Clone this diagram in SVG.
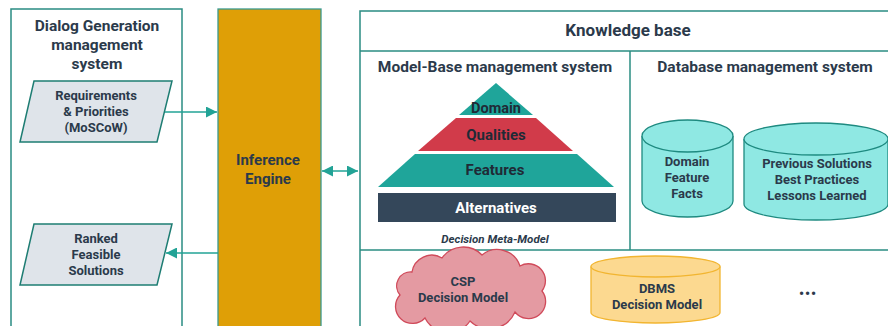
<svg xmlns="http://www.w3.org/2000/svg" width="888" height="326" viewBox="0 0 888 326">
<defs>
<style>
.t{font-family:Roboto,"Liberation Sans",sans-serif;font-weight:bold;fill:#2b3a4b;text-anchor:middle}
.frame{fill:none;stroke:#2a8c82;stroke-width:1.5}
.para{fill:#dfe4ea;stroke:#1e7d73;stroke-width:1.5}
.cyl{fill:#8fe8e3;stroke:#1e8a80;stroke-width:1.3}
.con{stroke:#22a396;stroke-width:1.5;fill:none}
</style>
<marker id="ah" viewBox="0 0 10 10" refX="10" refY="5" markerWidth="11" markerHeight="11" markerUnits="userSpaceOnUse" orient="auto-start-reverse">
<path d="M0,0 L10,5 L0,10 z" fill="#22a396"/>
</marker>
</defs>
<rect width="888" height="326" fill="#ffffff"/>

<g id="dialog-system">
<rect class="frame" x="11" y="9" width="171" height="330"/>
<text class="t" font-size="15.5"><tspan x="97" y="31">Dialog Generation</tspan><tspan x="97" y="50">management</tspan><tspan x="97" y="69">system</tspan></text>
</g>

<g id="requirements">
<polygon class="para" points="34,81 172,81 157,142 20,142"/>
<text class="t" font-size="13"><tspan x="96" y="100">Requirements</tspan><tspan x="96" y="116">&amp; Priorities</tspan><tspan x="96" y="132">(MoSCoW)</tspan></text>
</g>

<g id="ranked-solutions">
<polygon class="para" points="34,224 172,224 157,285 20,285"/>
<text class="t" font-size="13"><tspan x="96" y="243">Ranked</tspan><tspan x="96" y="259">Feasible</tspan><tspan x="96" y="275">Solutions</tspan></text>
</g>

<g id="inference-engine">
<rect x="218" y="9" width="103" height="330" fill="#df9f06" stroke="#3a9a90" stroke-width="1.3"/>
<text class="t" font-size="15"><tspan x="268" y="165">Inference</tspan><tspan x="268" y="184">Engine</tspan></text>
</g>

<g id="knowledge-base">
<rect class="frame" x="360" y="11" width="540" height="330"/>
<line class="frame" x1="360" y1="51" x2="888" y2="51"/>
<line class="frame" x1="360" y1="250" x2="888" y2="250"/>
<line class="frame" x1="630" y1="51" x2="630" y2="250"/>
<text class="t" font-size="17" x="628" y="36">Knowledge base</text>
</g>

<g id="model-base">
<text class="t" font-size="15.5" x="495" y="72">Model-Base management system</text>
<polygon points="496,83 533,115 459,115" fill="#1fa59a"/>
<polygon points="456,118 536,118 573,151 418,151" fill="#d13b4a"/>
<polygon points="415,154 577,154 614,187 378,187" fill="#1fa59a"/>
<rect x="378" y="193" width="238" height="29" fill="#34475a"/>
<text class="t" font-size="14.5" x="496" y="113" style="fill:#1f2a36">Domain</text>
<text class="t" font-size="15" x="496" y="140" style="fill:#1f2a36">Qualities</text>
<text class="t" font-size="15" x="495" y="175" style="fill:#1f2a36">Features</text>
<text class="t" font-size="15" x="496" y="213" style="fill:#ffffff">Alternatives</text>
<text class="t" font-size="11.5" font-style="italic" x="495" y="243">Decision Meta-Model</text>
</g>

<g id="database-system">
<text class="t" font-size="15.5" x="765" y="72">Database management system</text>
</g>

<g id="domain-facts">
<path class="cyl" d="M642,136 L642,201 A45.5,16 0 0 0 733,201 L733,136"/>
<ellipse class="cyl" cx="687.5" cy="136" rx="45.5" ry="16"/>
<text class="t" font-size="13"><tspan x="687" y="166">Domain</tspan><tspan x="687" y="182">Feature</tspan><tspan x="687" y="198">Facts</tspan></text>
</g>

<g id="previous-solutions">
<path class="cyl" d="M744,139 L744,204 A72,16 0 0 0 888,204 L888,139"/>
<ellipse class="cyl" cx="816" cy="139" rx="72" ry="16"/>
<text class="t" font-size="13"><tspan x="817" y="168">Previous Solutions</tspan><tspan x="817" y="184">Best Practices</tspan><tspan x="817" y="200">Lessons Learned</tspan></text>
</g>

<g id="csp-model">
<path d="M400,295 A14,14 0 0 1 412,272 A20,20 0 0 1 442,258 A26,26 0 0 1 482,255 A24,24 0 0 1 520,266 A17,17 0 0 1 542,291 A16,16 0 0 1 515,312 A28,28 0 0 1 470,321 A26,26 0 0 1 425,318 A16,16 0 0 1 400,295 Z" fill="#e49aa2" stroke="#d04a5a" stroke-width="1.3"/>
<text class="t" font-size="13"><tspan x="463" y="286">CSP</tspan><tspan x="463" y="302">Decision Model</tspan></text>
</g>

<g id="dbms-model">
<path d="M591,266.5 L591,312.5 A64.5,10.5 0 0 0 720,312.5 L720,266.5" fill="#fcd990" stroke="#f2b530" stroke-width="1.3"/>
<ellipse cx="655.5" cy="266.5" rx="64.5" ry="10.5" fill="#fcd990" stroke="#f2b530" stroke-width="1.3"/>
<text class="t" font-size="13"><tspan x="657" y="293">DBMS</tspan><tspan x="657" y="309">Decision  Model</tspan></text>
</g>

<g id="more">
<text class="t" font-size="14" x="808" y="299" letter-spacing="1">•••</text>
</g>

<g id="connectors">
<line class="con" x1="165" y1="112" x2="217" y2="112" marker-end="url(#ah)"/>
<line class="con" x1="218" y1="253" x2="166" y2="253" marker-end="url(#ah)"/>
<line class="con" x1="322" y1="171" x2="358" y2="171" marker-start="url(#ah)" marker-end="url(#ah)"/>
</g>
</svg>
